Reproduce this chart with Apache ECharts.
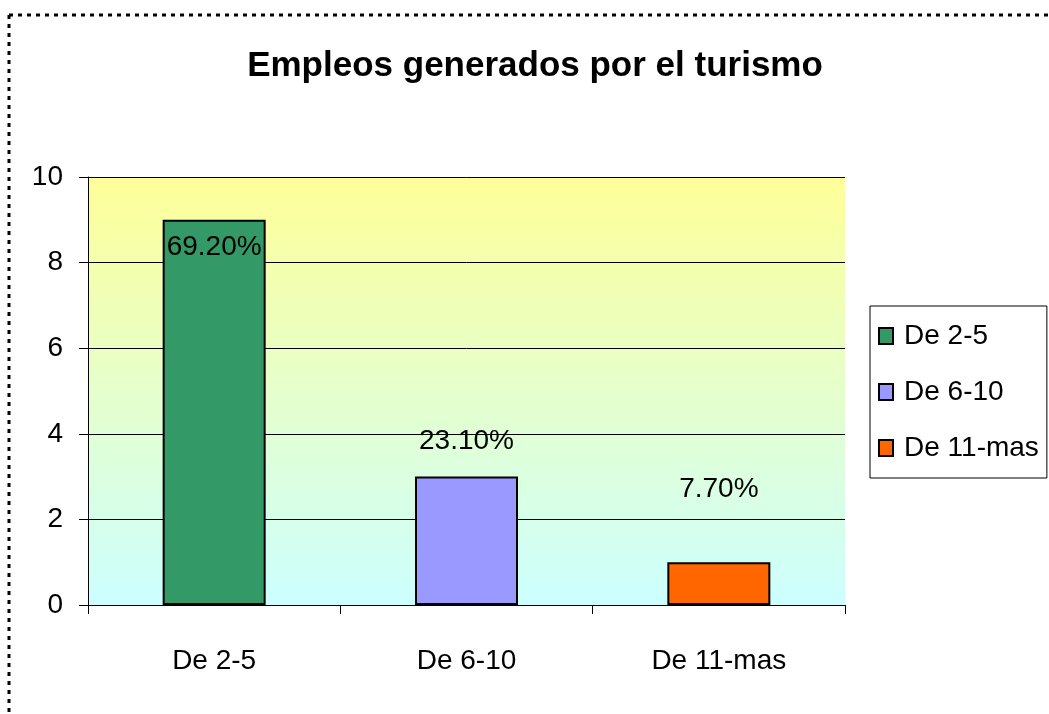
<!DOCTYPE html>
<html>
<head>
<meta charset="utf-8">
<script src="https://cdn.jsdelivr.net/npm/echarts@6/dist/echarts.min.js"></script>
<style>
  html, body { margin: 0; padding: 0; background: #fff; }
  #chart { width: 1049px; height: 714px; }
</style>
</head>
<body>
<div id="chart"></div>
<script>
(function () {
  'use strict';

  var categories = ['De 2-5', 'De 6-10', 'De 11-mas'];
  var values = [9, 3, 1];
  var percentLabels = ['69.20%', '23.10%', '7.70%'];
  var barColors = ['#339966', '#9999FF', '#FF6600'];
  var labelOffsets = [[0, 8], [0, -16], [0, -54]];

  var font = '"Liberation Sans", Arial, sans-serif';

  function buildSeries() {
    var list = [];
    for (var i = 0; i < categories.length; i += 1) {
      var data = [];
      for (var j = 0; j < categories.length; j += 1) {
        data.push(j === i ? values[i] : '-');
      }
      list.push({
        name: categories[i],
        type: 'bar',
        barWidth: 103,
        barGap: '-100%',
        data: data,
        itemStyle: { color: barColors[i], borderColor: '#000', borderWidth: 2 },
        label: {
          show: true,
          position: i === 0 ? 'insideTop' : 'top',
          offset: labelOffsets[i],
          formatter: percentLabels[i],
          color: '#000',
          fontFamily: font,
          fontSize: 28
        }
      });
    }
    return list;
  }

  var chart = echarts.init(document.getElementById('chart'));
  chart.setOption({
    animation: false,
    backgroundColor: '#fff',
    title: {
      text: 'Empleos generados por el turismo',
      left: 530,
      textAlign: 'center',
      top: 44,
      textStyle: { fontFamily: font, fontWeight: 'bold', fontSize: 35, color: '#000' }
    },
    graphic: [
      { type: 'line', shape: { x1: 9, y1: 15, x2: 1049, y2: 15 }, style: { stroke: '#000', lineWidth: 3, lineDash: [4, 5] } },
      { type: 'line', shape: { x1: 9, y1: 15, x2: 9, y2: 714 }, style: { stroke: '#000', lineWidth: 3, lineDash: [4, 5] } }
    ],
    legend: {
      orient: 'vertical',
      left: 870,
      top: 306,
      padding: [16, 8, 16, 8],
      itemGap: 28,
      itemWidth: 14,
      itemHeight: 16,
      backgroundColor: '#fff',
      borderColor: '#000',
      borderWidth: 1,
      icon: 'rect',
      textStyle: { fontFamily: font, fontSize: 28, color: '#000', padding: [0, 0, 0, 6] },
      data: categories
    },
    grid: {
      left: 88,
      right: 204,
      top: 177,
      bottom: 109,
      show: true,
      borderWidth: 0,
      backgroundColor: new echarts.graphic.LinearGradient(0, 0, 0, 1, [
        { offset: 0, color: '#FFFF99' },
        { offset: 1, color: '#CCFFFF' }
      ])
    },
    xAxis: {
      type: 'category',
      data: categories,
      axisLine: { lineStyle: { color: '#000', width: 1 } },
      axisTick: { show: true, length: 9, lineStyle: { color: '#000' } },
      axisLabel: { fontFamily: font, fontSize: 28, color: '#000', margin: 42 }
    },
    yAxis: {
      type: 'value',
      min: 0,
      max: 10,
      interval: 2,
      axisLine: { show: true, lineStyle: { color: '#000', width: 1 } },
      axisTick: { show: true, length: 9, lineStyle: { color: '#000' } },
      splitLine: { lineStyle: { color: '#000', width: 1 } },
      axisLabel: { fontFamily: font, fontSize: 28, color: '#000', margin: 25 }
    },
    series: buildSeries()
  });
})();
</script>
</body>
</html>
